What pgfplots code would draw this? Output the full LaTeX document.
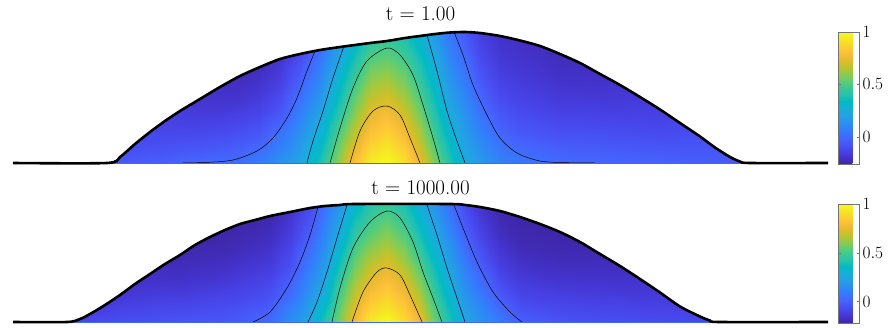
\documentclass[border=0pt]{standalone}
\usepackage{pgfplots}
\pgfplotsset{compat=1.18}
\usepackage{pgfplotstable}
\pgfplotsset{colormap={parula}{rgb=(0.2422,0.1504,0.6603) rgb=(0.2647,0.1978,0.7952) rgb=(0.2783,0.2559,0.8991) rgb=(0.2810,0.3228,0.9579) rgb=(0.2699,0.3892,0.9906) rgb=(0.2206,0.4603,0.9973) rgb=(0.1786,0.5289,0.9682) rgb=(0.1540,0.5902,0.9218) rgb=(0.1248,0.6459,0.8883) rgb=(0.0689,0.6948,0.8394) rgb=(0.0067,0.7312,0.7660) rgb=(0.1408,0.7584,0.6842) rgb=(0.2161,0.7843,0.5923) rgb=(0.3406,0.8008,0.4789) rgb=(0.5044,0.7993,0.3480) rgb=(0.6720,0.7793,0.2227) rgb=(0.8203,0.7498,0.1535) rgb=(0.9393,0.7288,0.2100) rgb=(0.9970,0.7659,0.2199) rgb=(0.9786,0.8386,0.1766) rgb=(0.9597,0.9135,0.1423) rgb=(0.9769,0.9839,0.0805)}}
\definecolor{basebl}{rgb}{0.26,0.40,0.98}
\definecolor{cbframe}{rgb}{0.45,0.45,0.45}

% top panel field: x, y, value (5 points per column, bottom to top)
\pgfplotstableread{
x y c
107 0 -0.05
107 0 -0.05
107 0 -0.05
107 0 -0.05
107 0 -0.05
120 0 -0.05
120 1.5 -0.055
120 3 -0.06
120 4.5 -0.065
120 6 -0.07
135 0 -0.04
135 4.75 -0.06
135 9.5 -0.075
135 14.25 -0.09
135 19 -0.1
150 0 -0.035
150 7.75 -0.06
150 15.5 -0.085
150 23.25 -0.105
150 31 -0.12
165 0 -0.03
165 10.5 -0.065
165 21 -0.095
165 31.5 -0.12
165 42 -0.14
180 0 -0.02
180 13 -0.065
180 26 -0.105
180 39 -0.14
180 52 -0.16
200 0 -0.005
200 16 -0.07
200 32 -0.12
200 48 -0.16
200 64 -0.19
220 0 0.01
220 19 -0.07
220 38 -0.13
220 57 -0.18
220 76 -0.21
240 0 0.02
240 21.75 -0.065
240 43.5 -0.13
240 65.25 -0.19
240 87 -0.225
260 0 0.07
260 24 -0.04
260 48 -0.12
260 72 -0.18
260 96 -0.22
280 0 0.15
280 26 0.04
280 52 -0.07
280 78 -0.14
280 104 -0.19
300 0 0.22
300 27.25 0.15
300 54.5 0.06
300 81.75 -0.03
300 109 -0.11
320 0 0.39
320 28.25 0.29
320 56.5 0.19
320 84.75 0.1
320 113 0.02
340 0 0.62
340 29 0.52
340 58 0.40
340 87 0.30
340 116 0.20
355 0 0.81
355 29.5 0.68
355 59 0.56
355 88.5 0.45
355 118 0.33
370 0 0.95
370 30 0.81
370 60 0.69
370 90 0.57
370 120 0.44
387 0 1.0
387 30.5 0.87
387 61 0.73
387 91.5 0.60
387 122 0.46
405 0 0.91
405 31.25 0.77
405 62.5 0.64
405 93.75 0.52
405 125 0.39
420 0 0.75
420 31.75 0.63
420 63.5 0.51
420 95.25 0.40
420 127 0.29
435 0 0.57
435 32.25 0.45
435 64.5 0.35
435 96.75 0.255
435 129 0.17
450 0 0.40
450 32.75 0.29
450 65.5 0.20
450 98.25 0.11
450 131 0.03
465 0 0.25
465 32.75 0.18
465 65.5 0.10
465 98.25 0.02
465 131 -0.06
480 0 0.17
480 32.5 0.08
480 65 -0.01
480 97.5 -0.09
480 130 -0.15
500 0 0.09
500 31.75 -0.02
500 63.5 -0.10
500 95.25 -0.16
500 127 -0.20
520 0 0.05
520 30.625 -0.06
520 61.25 -0.13
520 91.875 -0.18
520 122.5 -0.21
540 0 0.03
540 29.25 -0.07
540 58.5 -0.14
540 87.75 -0.19
540 117 -0.22
560 0 0.01
560 27.25 -0.08
560 54.5 -0.15
560 81.75 -0.20
560 109 -0.23
580 0 0.0
580 25 -0.075
580 50 -0.14
580 75 -0.19
580 100 -0.22
600 0 -0.005
600 22.25 -0.07
600 44.5 -0.13
600 66.75 -0.18
600 89 -0.21
620 0 -0.01
620 19.5 -0.07
620 39 -0.12
620 58.5 -0.16
620 78 -0.19
640 0 -0.015
640 16.5 -0.065
640 33 -0.11
640 49.5 -0.14
640 66 -0.17
660 0 -0.02
660 13.375 -0.06
660 26.75 -0.10
660 40.125 -0.13
660 53.5 -0.15
680 0 -0.03
680 10 -0.055
680 20 -0.08
680 30 -0.10
680 40 -0.12
700 0 -0.035
700 6.625 -0.05
700 13.25 -0.065
700 19.875 -0.08
700 26.5 -0.09
715 0 -0.04
715 3.875 -0.05
715 7.75 -0.06
715 11.625 -0.065
715 15.5 -0.07
730 0 -0.045
730 1.5 -0.05
730 3 -0.055
730 4.5 -0.06
730 6 -0.06
740 0 -0.05
740 0.375 -0.05
740 0.75 -0.05
740 1.125 -0.05
740 1.5 -0.05
}\topfield

% bottom panel field
\pgfplotstableread{
x y c
67 0 -0.08
67 0 -0.08
67 0 -0.08
67 0 -0.08
67 0 -0.08
80 0 -0.075
80 0.75 -0.08
80 1.5 -0.085
80 2.25 -0.09
80 3 -0.095
90 0 -0.07
90 2 -0.08
90 4 -0.09
90 6 -0.10
90 8 -0.11
105 0 -0.065
105 4.25 -0.08
105 8.5 -0.095
105 12.75 -0.11
105 17 -0.125
120 0 -0.06
120 6.75 -0.08
120 13.5 -0.10
120 20.25 -0.12
120 27 -0.14
135 0 -0.055
135 9.5 -0.08
135 19 -0.11
135 28.5 -0.135
135 38 -0.155
150 0 -0.05
150 12 -0.085
150 24 -0.12
150 36 -0.15
150 48 -0.17
165 0 -0.045
165 14.5 -0.085
165 29 -0.13
165 43.5 -0.165
165 58 -0.185
180 0 -0.04
180 16.75 -0.09
180 33.5 -0.14
180 50.25 -0.18
180 67 -0.20
195 0 -0.035
195 19.25 -0.09
195 38.5 -0.145
195 57.75 -0.185
195 77 -0.21
210 0 -0.03
210 21.25 -0.09
210 42.5 -0.15
210 63.75 -0.19
210 85 -0.22
225 0 -0.025
225 23 -0.09
225 46 -0.15
225 69 -0.195
225 92 -0.225
240 0 -0.015
240 24.5 -0.08
240 49 -0.14
240 73.5 -0.19
240 98 -0.23
255 0 0.01
255 25.5 -0.07
255 51 -0.13
255 76.5 -0.18
255 102 -0.22
270 0 0.04
270 26.5 -0.05
270 53 -0.12
270 79.5 -0.17
270 106 -0.21
290 0 0.16
290 27.5 0.04
290 55 -0.05
290 82.5 -0.11
290 110 -0.16
310 0 0.27
310 28.5 0.18
310 57 0.09
310 85.5 0.005
310 114 -0.07
325 0 0.43
325 29 0.30
325 58 0.21
325 87 0.13
325 116 0.06
340 0 0.60
340 29.25 0.51
340 58.5 0.40
340 87.75 0.28
340 117 0.19
355 0 0.79
355 29.5 0.68
355 59 0.56
355 88.5 0.45
355 118 0.33
370 0 0.94
370 29.5 0.80
370 59 0.67
370 88.5 0.54
370 118 0.43
387 0 1.0
387 29.5 0.86
387 59 0.73
387 88.5 0.60
387 118 0.47
405 0 0.90
405 29.5 0.77
405 59 0.64
405 88.5 0.52
405 118 0.40
420 0 0.77
420 29.5 0.64
420 59 0.51
420 88.5 0.39
420 118 0.28
435 0 0.56
435 29.5 0.46
435 59 0.36
435 88.5 0.26
435 118 0.17
450 0 0.41
450 29.5 0.31
450 59 0.22
450 88.5 0.13
450 118 0.04
465 0 0.25
465 29.25 0.17
465 58.5 0.09
465 87.75 0.0
465 117 -0.07
480 0 0.18
480 28.75 0.08
480 57.5 -0.01
480 86.25 -0.09
480 115 -0.15
500 0 0.09
500 27.75 -0.03
500 55.5 -0.11
500 83.25 -0.17
500 111 -0.21
520 0 0.0
520 26.25 -0.09
520 52.5 -0.15
520 78.75 -0.20
520 105 -0.23
540 0 -0.02
540 24.5 -0.10
540 49 -0.16
540 73.5 -0.20
540 98 -0.23
560 0 -0.04
560 22.5 -0.10
560 45 -0.16
560 67.5 -0.20
560 90 -0.23
580 0 -0.05
580 20 -0.10
580 40 -0.15
580 60 -0.19
580 80 -0.22
600 0 -0.055
600 17 -0.10
600 34 -0.14
600 51 -0.17
600 68 -0.20
620 0 -0.06
620 14 -0.09
620 28 -0.13
620 42 -0.16
620 56 -0.18
640 0 -0.065
640 10.75 -0.09
640 21.5 -0.12
640 32.25 -0.14
640 43 -0.16
660 0 -0.07
660 7.375 -0.085
660 14.75 -0.10
660 22.125 -0.12
660 29.5 -0.13
680 0 -0.075
680 3.875 -0.08
680 7.75 -0.09
680 11.625 -0.10
680 15.5 -0.11
700 0 -0.08
700 1.375 -0.08
700 2.75 -0.085
700 4.125 -0.09
700 5.5 -0.09
710 0 -0.08
710 0.375 -0.08
710 0.75 -0.08
710 1.125 -0.08
710 1.5 -0.08
}\botfield

\pgfplotsset{
  panel/.style={
    scale only axis, width=815pt, xmin=13, xmax=828, ymin=0,
    hide axis, clip=false, colormap name=parula,
    title style={font=\fontsize{21}{24}\selectfont, anchor=base, at={(0.5,1)}},
    colorbar,
  },
  cbar/.style={
    at={(parent axis.north east)}, anchor=north west, xshift=1.5pt,
    scale only axis, width=21pt,
    ytick={0,0.5,1},
    axis line style={cbframe, line width=0.6pt},
    major tick length=2.5pt, tick style={cbframe},
    yticklabel style={font=\fontsize{17}{20}\selectfont},
  },
  field/.style={surf, shader=interp, mesh/ordering=y varies, mesh/rows=5, point meta=\thisrow{c}},
  cont/.style={black, line width=0.5pt, smooth},
  edge/.style={black, line width=2.6pt, line join=round, smooth, tension=0.45},
}

\begin{document}
\begin{tikzpicture}[x=1pt,y=1pt]
\path[use as bounding box] (0,0) rectangle (894,327);

\begin{axis}[panel, at={(13pt,164pt)}, anchor=south west, height=131pt, ymax=131,
  point meta min=-0.26, point meta max=1,
  title={t = 1.00}, title style={yshift=5.3pt},
  colorbar style={cbar, height=132pt}]
\addplot[field] table[x=x,y=y] {\topfield};
\addplot[cont] coordinates {(183,0) (207,0.6) (233,3) (257,12) (273,25) (287,45) (297,65) (307,92) (315,112)};
\addplot[cont] coordinates {(307,0) (313,22) (323,52) (333,85) (344,117)};
\addplot[cont] coordinates {(330,0) (340,35) (353,75) (367,102) (387,115) (400,108) (413,88) (423,58) (433,25) (440,0)};
\addplot[cont] coordinates {(350,0) (360,32) (373,52) (387,57) (400,48) (410,25) (420,0)};
\addplot[cont] coordinates {(427,128) (437,92) (447,52) (457,22) (465,0)};
\addplot[cont] coordinates {(454,131) (463,108) (473,78) (487,48) (500,25) (517,10) (540,2) (567,0.3) (595,0)};
\addplot[basebl, line width=1.2pt] coordinates {(13,-0.6) (828,-0.6)};
\addplot[edge] coordinates {(13,0) (107,0) (120,6) (135,19) (150,31) (165,42) (180,52) (200,64) (220,76) (240,87) (260,96) (280,104) (300,109) (320,113) (340,116) (355,118) (370,120) (387,122) (405,125) (420,127) (435,129) (450,130.5) (465,131) (480,130) (500,127) (520,122.5) (540,117) (560,109) (580,100) (600,89) (620,78) (640,66) (660,53.5) (680,40) (700,26.5) (715,15.5) (730,6) (740,1.5) (750,0) (828,0)};
\end{axis}

\begin{axis}[panel, at={(13pt,5pt)}, anchor=south west, height=118pt, ymax=118,
  point meta min=-0.22, point meta max=1,
  title={t = 1000.00}, title style={yshift=3.7pt},
  colorbar style={cbar, height=119pt}]
\addplot[field] table[x=x,y=y] {\botfield};
\addplot[cont] coordinates {(253,0) (270,10) (287,34) (300,60) (310,87) (318,115)};
\addplot[cont] coordinates {(308,0) (317,20) (327,50) (337,84) (347,117)};
\addplot[cont] coordinates {(332,0) (340,34) (353,74) (370,100) (387,111) (400,104) (413,80) (423,50) (433,24) (442,0)};
\addplot[cont] coordinates {(352,0) (363,30) (377,50) (387,54) (400,47) (410,27) (422,0)};
\addplot[cont] coordinates {(427,117) (437,87) (447,54) (457,24) (465,0)};
\addplot[cont] coordinates {(454,117) (463,94) (477,60) (493,30) (510,10) (522,0)};
\addplot[basebl, line width=1.2pt] coordinates {(13,-0.6) (828,-0.6)};
\addplot[edge] coordinates {(13,0) (67,0) (80,3) (90,8) (105,17) (120,27) (135,38) (150,48) (165,58) (180,67) (195,77) (210,85) (225,92) (240,98) (255,102) (270,106) (290,110) (310,114) (325,116) (340,117) (355,118) (450,118) (465,117) (480,115) (500,111) (520,105) (540,98) (560,90) (580,80) (600,68) (620,56) (640,43) (660,29.5) (680,15.5) (700,5.5) (710,1.5) (720,0) (828,0)};
\end{axis}
\end{tikzpicture}
\end{document}
